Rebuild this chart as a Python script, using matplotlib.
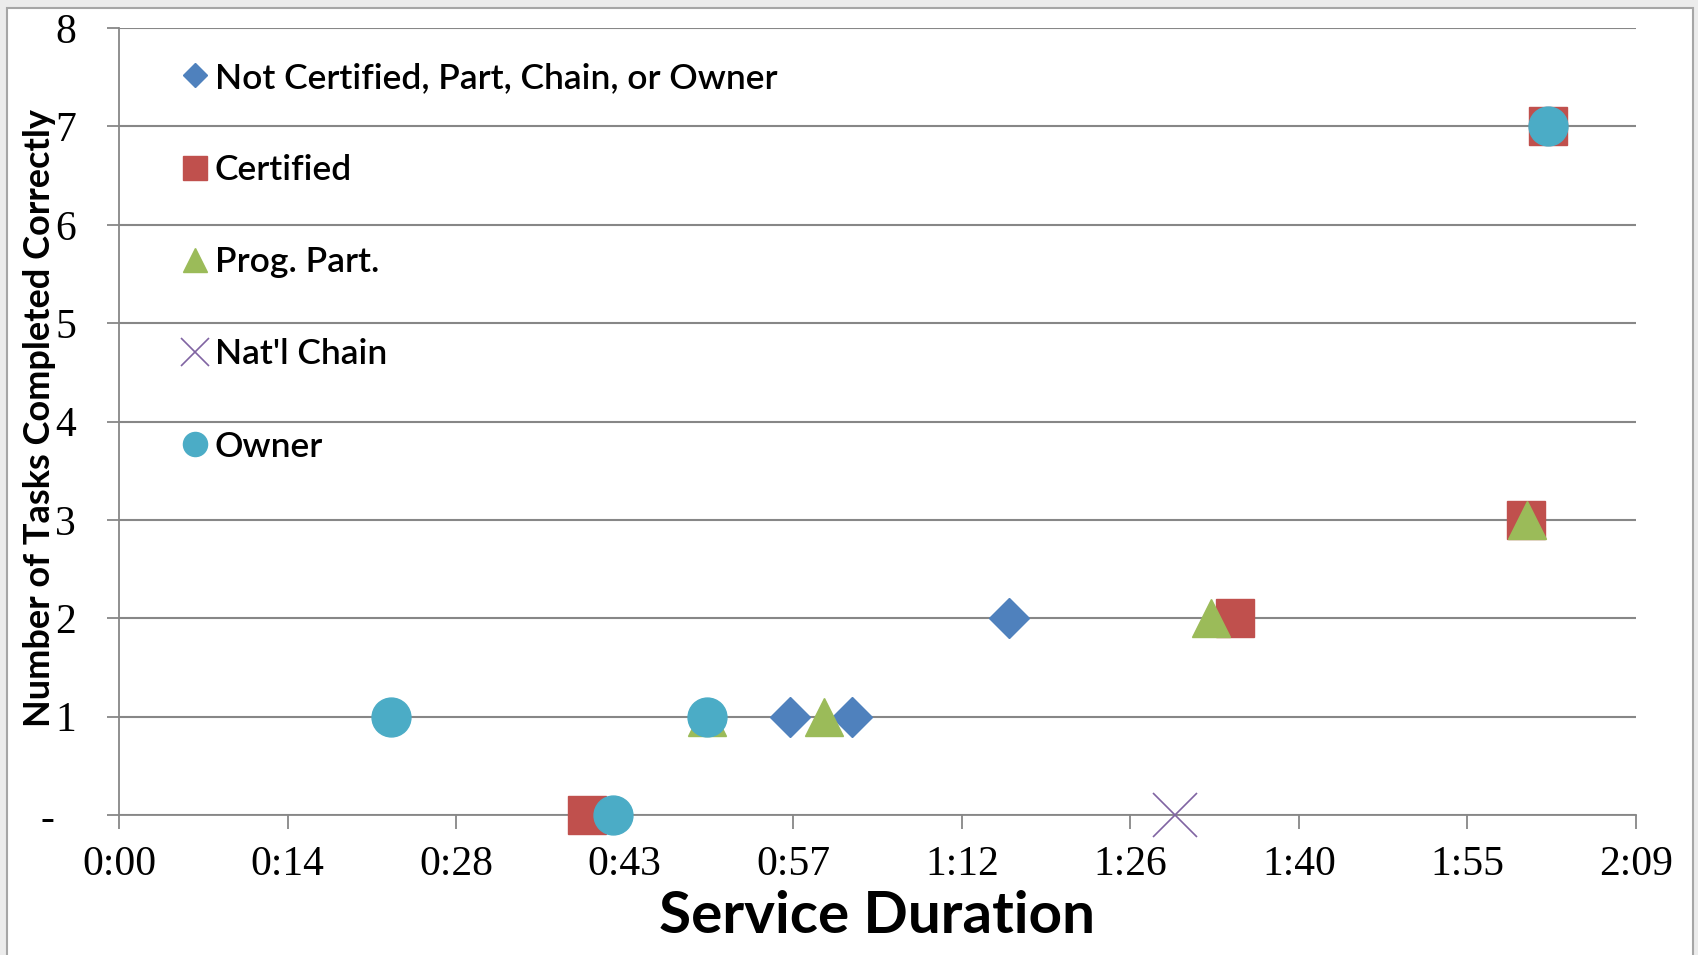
import matplotlib
matplotlib.use("Agg")
import matplotlib.pyplot as plt
from matplotlib.patches import Rectangle

# Service duration in minutes, tasks completed correctly
not_cert_x = [57.3, 62.6, 76.0]
not_cert_y = [1, 1, 2]
cert_x = [40.0, 95.3, 120.2, 122.1]
cert_y = [0, 2, 3, 7]
prog_x = [50.2, 60.2, 93.3, 120.3]
prog_y = [1, 1, 2, 3]
chain_x = [90.2]
chain_y = [0]
owner_x = [23.2, 50.2, 42.2, 122.1]
owner_y = [1, 1, 0, 7]

x_ticks = [0, 14.4, 28.8, 43.2, 57.6, 72.0, 86.4, 100.8, 115.2, 129.6]
x_labels = ['0:00', '0:14', '0:28', '0:43', '0:57', '1:12', '1:26', '1:40', '1:55', '2:09']
y_ticks = [0, 1, 2, 3, 4, 5, 6, 7, 8]
y_labels = ['-  ', '1', '2', '3', '4', '5', '6', '7', '8']

W, H = 1699, 955
fig = plt.figure(figsize=(W/100, H/100), dpi=100, facecolor='#ececec')
fig.add_artist(Rectangle((7/W, -0.02), (1693-7)/W, 1.02 - 8/H, transform=fig.transFigure,
                         fc='white', ec='#a6a6a6', lw=1.5, zorder=-5))
ax = fig.add_axes([119/W, 1-815/H, (1636-119)/W, (815-28)/H])
ax.set_facecolor('none')

grid_c = '#878787'
ax.plot(not_cert_x, not_cert_y, 'D', ms=20, color='#4F81BD', mec='#4F81BD', ls='none',
        label='Not Certified, Part, Chain, or Owner', zorder=3, clip_on=False)
ax.plot(cert_x, cert_y, 's', ms=28, color='#C0504D', mec='#C0504D', ls='none',
        label='Certified', zorder=4, clip_on=False)
ax.plot(prog_x, prog_y, '^', ms=28, color='#9BBB59', mec='#9BBB59', ls='none',
        label='Prog. Part.', zorder=5, clip_on=False)
ax.plot(chain_x, chain_y, 'x', ms=32, mew=1.2, color='#8064A2', ls='none',
        label="Nat'l Chain", zorder=6, clip_on=False)
ax.plot(owner_x, owner_y, 'o', ms=28, color='#4BACC6', mec='#4BACC6', ls='none',
        label='Owner', zorder=7, clip_on=False)

ax.set_xlim(0, 129.6)
ax.set_ylim(0, 8)
ax.set_xticks(x_ticks)
ax.set_xticklabels(x_labels, family='Liberation Serif', fontsize=30)
ax.set_yticks(y_ticks)
ax.set_yticklabels(y_labels, family='Liberation Serif', fontsize=30)
ax.tick_params(axis='x', length=10, width=1.3, color=grid_c, pad=12)
ax.tick_params(axis='y', length=9, width=1.3, color=grid_c, pad=22)
ax.grid(axis='y', color=grid_c, lw=1.5)
ax.set_axisbelow(True)
for s in ['top', 'right']:
    ax.spines[s].set_visible(False)
for s in ['left', 'bottom']:
    ax.spines[s].set_color(grid_c)
    ax.spines[s].set_linewidth(1.3)

leg = ax.legend(loc='upper left', bbox_to_anchor=(0.03, 0.975), frameon=False,
                markerscale=0.62, labelspacing=1.7, handletextpad=0.12,
                handlelength=0.9, borderaxespad=0,
                prop={'family': 'Lato', 'size': 25.5, 'weight': 'semibold'})

fig.text(40/W, 1-418/H, 'Number of Tasks Completed Correctly', rotation=90,
         ha='center', va='center', family='Lato', fontweight='bold', fontsize=26)
fig.text(877/W, 1-916/H, 'Service Duration', ha='center', va='center',
         family='Lato', fontweight='bold', fontsize=42)

fig.savefig('out.png', dpi=100, facecolor=fig.get_facecolor())
